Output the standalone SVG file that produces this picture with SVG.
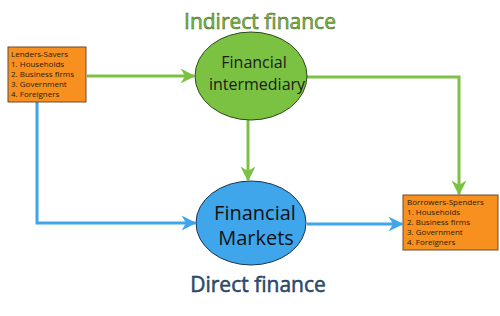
<svg xmlns="http://www.w3.org/2000/svg" width="500" height="316" viewBox="0 0 500 316">
<defs>
<style>
text{font-family:"Open Sans","Noto Sans","DejaVu Sans",sans-serif}
.box{fill:#f7901e;stroke:#6b4a2a;stroke-width:1}
.bt{font-size:8px;fill:#2a1a0a}
.g{stroke:#7cc242;stroke-width:3;fill:none}
.b{stroke:#3fa6ec;stroke-width:3;fill:none}
.title{font-size:21px;stroke-width:0.5px;text-anchor:middle}
</style>
<marker id="ag" viewBox="0 0 10 10" refX="9" refY="5" markerWidth="5" markerHeight="5" markerUnits="strokeWidth" orient="auto"><path d="M0,0 L10,5 L0,10 L3,5 Z" fill="#7cc242"/></marker>
<marker id="ab" viewBox="0 0 10 10" refX="9" refY="5" markerWidth="5" markerHeight="5" markerUnits="strokeWidth" orient="auto"><path d="M0,0 L10,5 L0,10 L3,5 Z" fill="#3fa6ec"/></marker>
</defs>
<rect width="500" height="316" fill="#fff"/>
<g id="connectors">
<path class="g" d="M87,76 H194" marker-end="url(#ag)"/>
<path class="g" d="M306,77 H459 V194" marker-end="url(#ag)"/>
<path class="g" d="M248,120 V180" marker-end="url(#ag)"/>
<path class="b" d="M37,102 V223 H195" marker-end="url(#ab)"/>
<path class="b" d="M307,224 H402" marker-end="url(#ab)"/>
</g>
<g id="indirect-label"><text class="title" x="260" y="29" fill="#7cc242" stroke="#3a5a20">Indirect finance</text></g>
<g id="direct-label"><text class="title" x="258" y="292" fill="#2f5478" stroke="#1a3350">Direct finance</text></g>
<g id="lenders">
<rect class="box" x="8" y="47" width="78" height="55"/>
<text class="bt" x="11" y="57">Lenders-Savers</text>
<text class="bt" x="11" y="67">1. Households</text>
<text class="bt" x="11" y="77">2. Business firms</text>
<text class="bt" x="11" y="87">3. Government</text>
<text class="bt" x="11" y="97">4. Foreigners</text>
</g>
<g id="borrowers">
<rect class="box" x="403" y="195" width="95" height="55"/>
<text class="bt" x="407" y="205">Borrowers-Spenders</text>
<text class="bt" x="407" y="215">1. Households</text>
<text class="bt" x="407" y="225">2. Business firms</text>
<text class="bt" x="407" y="235">3. Government</text>
<text class="bt" x="407" y="245">4. Foreigners</text>
</g>
<g id="intermediary">
<ellipse cx="251" cy="76" rx="56" ry="44" fill="#7cc242" stroke="#2d4a1a" stroke-width="1"/>
<text x="254" y="68" font-size="16" text-anchor="middle" fill="#1a1a1a">Financial</text>
<text x="257" y="90" font-size="16" text-anchor="middle" fill="#1a1a1a">intermediary</text>
</g>
<g id="markets">
<ellipse cx="251" cy="223" rx="55" ry="42" fill="#3fa6ec" stroke="#1a3350" stroke-width="1"/>
<text x="255" y="220" font-size="20" text-anchor="middle" fill="#111">Financial</text>
<text x="256" y="245" font-size="20" text-anchor="middle" fill="#111">Markets</text>
</g>
</svg>
